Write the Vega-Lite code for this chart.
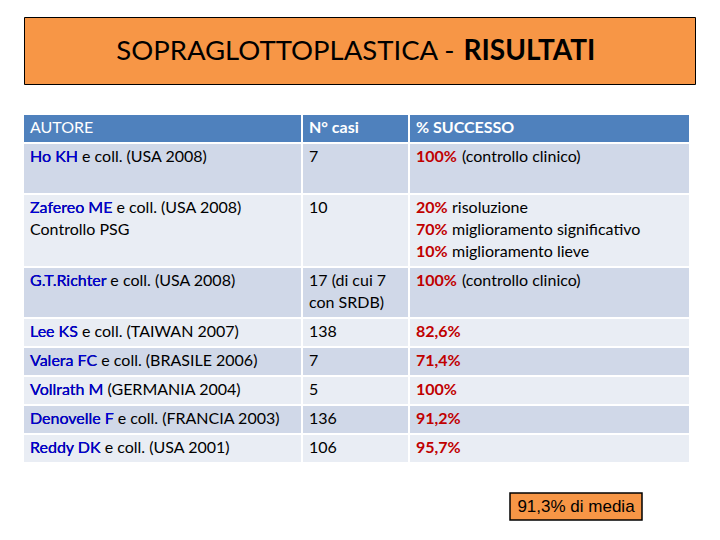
{
  "$schema": "https://vega.github.io/schema/vega-lite/v6.json",
  "padding": {"left": 23, "top": 16, "right": 0, "bottom": 0},
  "background": "white",
  "config": {"view": {"stroke": null}, "font": "Lato", "concat": {"spacing": 30}},
  "datasets": {
    "tabella": [
      {"row": 0, "line": 0, "col": "AUTORE", "text": "AUTORE"},
      {"row": 0, "line": 0, "col": "N° casi", "text": "N° casi"},
      {"row": 0, "line": 0, "col": "% SUCCESSO", "text": "% SUCCESSO"},
      {"row": 1, "line": 0, "col": "AUTORE", "text": "Ho KH e coll. (USA 2008)", "name": "Ho KH"},
      {"row": 1, "line": 1, "col": "AUTORE", "text": ""},
      {"row": 1, "line": 0, "col": "N° casi", "text": "7"},
      {"row": 1, "line": 1, "col": "N° casi", "text": ""},
      {"row": 1, "line": 0, "col": "% SUCCESSO", "pct": "100%", "rest": "(controllo clinico)"},
      {"row": 1, "line": 1, "col": "% SUCCESSO"},
      {"row": 2, "line": 0, "col": "AUTORE", "text": "Zafereo ME e coll. (USA 2008)", "name": "Zafereo ME"},
      {"row": 2, "line": 1, "col": "AUTORE", "text": "Controllo PSG"},
      {"row": 2, "line": 2, "col": "AUTORE", "text": ""},
      {"row": 2, "line": 0, "col": "N° casi", "text": "10"},
      {"row": 2, "line": 1, "col": "N° casi", "text": ""},
      {"row": 2, "line": 2, "col": "N° casi", "text": ""},
      {"row": 2, "line": 0, "col": "% SUCCESSO", "pct": "20%", "rest": "risoluzione"},
      {"row": 2, "line": 1, "col": "% SUCCESSO", "pct": "70%", "rest": "miglioramento significativo"},
      {"row": 2, "line": 2, "col": "% SUCCESSO", "pct": "10%", "rest": "miglioramento lieve"},
      {"row": 3, "line": 0, "col": "AUTORE", "text": "G.T.Richter e coll. (USA 2008)", "name": "G.T.Richter"},
      {"row": 3, "line": 1, "col": "AUTORE", "text": ""},
      {"row": 3, "line": 0, "col": "N° casi", "text": "17 (di cui 7"},
      {"row": 3, "line": 1, "col": "N° casi", "text": "con SRDB)"},
      {"row": 3, "line": 0, "col": "% SUCCESSO", "pct": "100%", "rest": "(controllo clinico)"},
      {"row": 3, "line": 1, "col": "% SUCCESSO"},
      {"row": 4, "line": 0, "col": "AUTORE", "text": "Lee KS e coll. (TAIWAN 2007)", "name": "Lee KS"},
      {"row": 4, "line": 0, "col": "N° casi", "text": "138"},
      {"row": 4, "line": 0, "col": "% SUCCESSO", "pct": "82,6%"},
      {"row": 5, "line": 0, "col": "AUTORE", "text": "Valera FC e coll. (BRASILE 2006)", "name": "Valera FC"},
      {"row": 5, "line": 0, "col": "N° casi", "text": "7"},
      {"row": 5, "line": 0, "col": "% SUCCESSO", "pct": "71,4%"},
      {"row": 6, "line": 0, "col": "AUTORE", "text": "Vollrath M (GERMANIA 2004)", "name": "Vollrath M"},
      {"row": 6, "line": 0, "col": "N° casi", "text": "5"},
      {"row": 6, "line": 0, "col": "% SUCCESSO", "pct": "100%"},
      {"row": 7, "line": 0, "col": "AUTORE", "text": "Denovelle F e coll. (FRANCIA 2003)", "name": "Denovelle F"},
      {"row": 7, "line": 0, "col": "N° casi", "text": "136"},
      {"row": 7, "line": 0, "col": "% SUCCESSO", "pct": "91,2%"},
      {"row": 8, "line": 0, "col": "AUTORE", "text": "Reddy DK e coll. (USA 2001)", "name": "Reddy DK"},
      {"row": 8, "line": 0, "col": "N° casi", "text": "106"},
      {"row": 8, "line": 0, "col": "% SUCCESSO", "pct": "95,7%"}
    ],
    "titolo": [{"testo": "SOPRAGLOTTOPLASTICA -", "enfasi": "RISULTATI"}],
    "media": [{"nota": "91,3% di media"}]
  },
  "vconcat": [
    {
      "data": {"name": "titolo"},
      "width": 671,
      "height": 67,
      "view": {"fill": "#F79646", "stroke": "#000000", "strokeWidth": 1},
      "layer": [
        {"mark": {"type": "text", "align": "right", "baseline": "middle", "dx": 95, "dy": 1, "fontSize": 27.5, "font": "Lato", "color": "#000000"}, "encoding": {"text": {"field": "testo"}}},
        {"mark": {"type": "text", "align": "left", "baseline": "middle", "dx": 104, "dy": 1, "fontSize": 28, "font": "Lato", "fontWeight": "bold", "color": "#000000"}, "encoding": {"text": {"field": "enfasi"}}}
      ]
    },
    {
      "spacing": 2,
      "hconcat": [
        {
          "data": {"name": "tabella"},
          "transform": [{"filter": "datum.col === 'AUTORE'"}],
          "facet": {"row": {"field": "row", "type": "ordinal", "header": null}},
          "spacing": 2,
          "resolve": {"scale": {"y": "independent"}},
          "spec": {
            "width": 277,
            "height": {"step": 22},
            "layer": [
              {
                "mark": {"type": "rect"},
                "encoding": {
                  "x": {"field": "col", "type": "nominal", "axis": null, "scale": {"paddingInner": 0, "paddingOuter": 0}},
                  "color": {"field": "row", "type": "ordinal", "legend": null, "scale": {"domain": [0,1,2,3,4,5,6,7,8], "range": ["#4F81BD","#D0D8E8","#E9EDF4","#D0D8E8","#E9EDF4","#D0D8E8","#E9EDF4","#D0D8E8","#E9EDF4"]}}
                }
              },
              {
                "mark": {"type": "text", "align": "left", "baseline": "middle", "dx": 6, "fontSize": 16, "font": "Lato"},
                "encoding": {
                  "x": {"field": "col", "type": "nominal", "bandPosition": 0, "axis": null, "scale": {"paddingInner": 0, "paddingOuter": 0}},
                  "y": {"field": "line", "type": "ordinal", "axis": null, "scale": {"type": "band", "paddingInner": 0, "paddingOuter": 0.1136}},
                  "text": {"field": "text"},
                  "color": {"condition": {"test": "datum.row === 0", "value": "#FFFFFF"}, "value": "#000000"}
                }
              },
              {
                "transform": [{"filter": "isValid(datum.name)"}],
                "mark": {"type": "text", "align": "left", "baseline": "middle", "dx": 6, "fontSize": 16, "font": "Lato", "color": "#0000DD"},
                "encoding": {
                  "x": {"field": "col", "type": "nominal", "bandPosition": 0, "axis": null},
                  "y": {"field": "line", "type": "ordinal", "axis": null},
                  "text": {"field": "name"}
                }
              }
            ]
          }
        },
        {
          "data": {"name": "tabella"},
          "transform": [{"filter": "datum.col === 'N° casi'"}],
          "facet": {"row": {"field": "row", "type": "ordinal", "header": null}},
          "spacing": 2,
          "resolve": {"scale": {"y": "independent"}},
          "spec": {
            "width": 105,
            "height": {"step": 22},
            "layer": [
              {
                "mark": {"type": "rect"},
                "encoding": {
                  "x": {"field": "col", "type": "nominal", "axis": null, "scale": {"paddingInner": 0, "paddingOuter": 0}},
                  "color": {"field": "row", "type": "ordinal", "legend": null, "scale": {"domain": [0,1,2,3,4,5,6,7,8], "range": ["#4F81BD","#D0D8E8","#E9EDF4","#D0D8E8","#E9EDF4","#D0D8E8","#E9EDF4","#D0D8E8","#E9EDF4"]}}
                }
              },
              {
                "transform": [{"filter": "datum.row > 0"}],
                "mark": {"type": "text", "align": "left", "baseline": "middle", "dx": 6, "fontSize": 16, "font": "Lato", "color": "#000000"},
                "encoding": {
                  "x": {"field": "col", "type": "nominal", "bandPosition": 0, "axis": null, "scale": {"paddingInner": 0, "paddingOuter": 0}},
                  "y": {"field": "line", "type": "ordinal", "axis": null, "scale": {"type": "band", "paddingInner": 0, "paddingOuter": 0.1136}},
                  "text": {"field": "text"}
                }
              },
              {
                "transform": [{"filter": "datum.row === 0"}],
                "mark": {"type": "text", "align": "left", "baseline": "middle", "dx": 6, "fontSize": 16, "font": "Lato", "fontWeight": "bold", "color": "#FFFFFF"},
                "encoding": {
                  "x": {"field": "col", "type": "nominal", "bandPosition": 0, "axis": null},
                  "y": {"field": "line", "type": "ordinal", "axis": null},
                  "text": {"field": "text"}
                }
              }
            ]
          }
        },
        {
          "data": {"name": "tabella"},
          "transform": [{"filter": "datum.col === '% SUCCESSO'"}],
          "facet": {"row": {"field": "row", "type": "ordinal", "header": null}},
          "spacing": 2,
          "resolve": {"scale": {"y": "independent"}},
          "spec": {
            "width": 279,
            "height": {"step": 22},
            "layer": [
              {
                "mark": {"type": "rect"},
                "encoding": {
                  "x": {"field": "col", "type": "nominal", "axis": null, "scale": {"paddingInner": 0, "paddingOuter": 0}},
                  "color": {"field": "row", "type": "ordinal", "legend": null, "scale": {"domain": [0,1,2,3,4,5,6,7,8], "range": ["#4F81BD","#D0D8E8","#E9EDF4","#D0D8E8","#E9EDF4","#D0D8E8","#E9EDF4","#D0D8E8","#E9EDF4"]}}
                }
              },
              {
                "mark": {"type": "text", "align": "left", "baseline": "middle", "dx": 6, "fontSize": 16, "font": "Lato", "fontWeight": "bold", "color": "#FFFFFF"},
                "encoding": {
                  "x": {"field": "col", "type": "nominal", "bandPosition": 0, "axis": null, "scale": {"paddingInner": 0, "paddingOuter": 0}},
                  "y": {"field": "line", "type": "ordinal", "axis": null, "scale": {"type": "band", "paddingInner": 0, "paddingOuter": 0.1136}},
                  "text": {"condition": {"test": "datum.row === 0", "field": "text"}, "value": ""}
                }
              },
              {
                "transform": [{"filter": "isValid(datum.pct)"}],
                "mark": {"type": "text", "align": "left", "baseline": "middle", "dx": 6, "fontSize": 16, "font": "Lato", "fontWeight": "bold", "color": "#C00000"},
                "encoding": {
                  "x": {"field": "col", "type": "nominal", "bandPosition": 0, "axis": null},
                  "y": {"field": "line", "type": "ordinal", "axis": null},
                  "text": {"field": "pct"}
                }
              },
              {
                "transform": [{"filter": "isValid(datum.rest) && datum.pct === '100%'"}],
                "mark": {"type": "text", "align": "left", "baseline": "middle", "dx": 52, "fontSize": 16, "font": "Lato", "color": "#000000"},
                "encoding": {
                  "x": {"field": "col", "type": "nominal", "bandPosition": 0, "axis": null},
                  "y": {"field": "line", "type": "ordinal", "axis": null},
                  "text": {"field": "rest"}
                }
              },
              {
                "transform": [{"filter": "isValid(datum.rest) && length(datum.pct) === 3"}],
                "mark": {"type": "text", "align": "left", "baseline": "middle", "dx": 42, "fontSize": 16, "font": "Lato", "color": "#000000"},
                "encoding": {
                  "x": {"field": "col", "type": "nominal", "bandPosition": 0, "axis": null},
                  "y": {"field": "line", "type": "ordinal", "axis": null},
                  "text": {"field": "rest"}
                }
              }
            ]
          }
        }
      ]
    },
    {
      "spacing": 0,
      "hconcat": [
        {
          "data": {"values": [{}]},
          "width": 485,
          "height": 27,
          "mark": {"type": "text"},
          "encoding": {}
        },
        {
          "data": {"name": "media"},
          "width": 132,
          "height": 27,
          "view": {"fill": "#F79646", "stroke": "#000000", "strokeWidth": 1.5},
          "mark": {"type": "text", "baseline": "middle", "font": "Liberation Sans", "fontSize": 17, "color": "#000000"},
          "encoding": {"text": {"field": "nota"}}
        }
      ]
    }
  ]
}
